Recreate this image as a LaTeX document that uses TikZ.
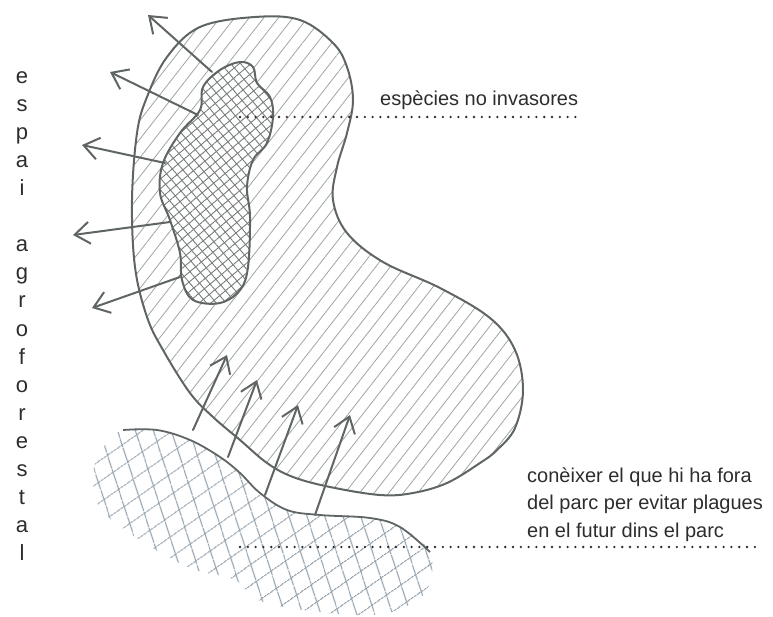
\documentclass[tikz,border=0pt]{standalone}
\usepackage{fontspec}
\setmainfont{Liberation Sans}
\usetikzlibrary{arrows.meta,patterns.meta}
\definecolor{pencil}{RGB}{95,100,100}
\definecolor{graphite}{RGB}{160,163,163}
\definecolor{lead}{RGB}{120,124,124}
\definecolor{slate}{RGB}{145,160,172}
\definecolor{ink}{RGB}{45,45,45}

\begin{document}
\begin{tikzpicture}[x=1pt,y=-1pt,
    outline/.style={draw=pencil,line width=2pt,line join=round},
    pushline/.style={draw=pencil,line width=2pt,line cap=round,-{Straight Barb[length=15pt,width=22pt,line width=2pt]}},
    dotline/.style={draw=ink,line width=2.6pt,line cap=round,dash pattern=on 0pt off 7.8pt},
    notetext/.style={font=\fontsize{20}{24}\selectfont,text=ink,inner sep=0pt}]
  \useasboundingbox (0,0) rectangle (773,617);

  \def\beanpath{plot[smooth cycle,tension=0.6] coordinates {(255,17) (300,20) (333,43) (347,67) (353,100) (347,133) (337,167) (333,200) (347,233) (383,262) (440,288) (490,318) (515,350) (523,390) (515,428) (497,450) (480,463) (447,483) (413,493) (380,495) (330,487) (293,477) (267,463) (240,440) (213,417) (190,393) (163,350) (147,317) (135,267) (132,200) (137,133) (147,97) (167,57) (200,27)}}
  \def\blobpath{plot[smooth cycle,tension=0.6] coordinates {(240,62) (253,67) (257,83) (270,97) (273,117) (267,143) (253,160) (247,187) (250,217) (248,267) (240,290) (220,303) (193,300) (182,280) (180,253) (170,220) (160,193) (163,163) (180,133) (200,110) (203,87) (220,70)}}
  \def\landpath{plot[smooth cycle,tension=0.6] coordinates {(123,430) (157,430) (190,440) (220,457) (240,473) (260,493) (287,510) (320,515) (370,518) (400,527) (430,552) (428,588) (405,607) (370,615) (310,611) (258,600) (235,580) (190,568) (140,540) (100,508) (93,473) (105,445)}}

  \foreach \ang in {35,108}
    \fill[pattern={Lines[angle=\ang,distance=17pt,line width=1.1pt]},pattern color=slate] \landpath;
  \draw[outline,line width=1.8pt] plot[smooth,tension=0.6] coordinates {(123,430) (157,430) (190,440) (220,457) (240,473) (260,493) (287,510) (320,515) (370,518) (400,527) (430,552)};

  \fill[pattern={Lines[angle=52,distance=11.5pt,line width=0.8pt]},pattern color=graphite] \beanpath;
  \draw[outline] \beanpath;

  \fill[white] \blobpath;
  \foreach \ang in {40,130}
    \fill[pattern={Lines[angle=\ang,distance=7.5pt,line width=0.9pt]},pattern color=lead] \blobpath;
  \draw[outline] \blobpath;

  \foreach \a/\b/\c/\d [count=\i] in {212/72/148/15,198/115/110/72,165/163/82/145,170/222/73/235,180/277/92/308}
  {
    \coordinate (outs\i) at (\a,\b);
    \coordinate (outt\i) at (\c,\d);
    \draw[pushline] (outs\i) -- (outt\i);
  }
  \foreach \a/\b/\c/\d [count=\i] in {193/430/227/355,228/457/257/380,265/495/298/405,315/515/350/415}
  {
    \coordinate (ins\i) at (\a,\b);
    \coordinate (int\i) at (\c,\d);
    \draw[pushline] (ins\i) -- (int\i);
  }

  \node[notetext,anchor=base west] (invasores) at (380,106) {espècies no invasores};
  \coordinate (invS) at (240,117);
  \coordinate (invE) at (582,117);
  \draw[dotline] (invS) -- (invE);

  \foreach \t/\y [count=\i] in {conèixer el que hi ha fora/482,del parc per evitar plagues/509.5,en el futur dins el parc/537}
    \node[notetext,anchor=base west] (fora\i) at (527,\y) {\t};
  \coordinate (foraS) at (240,547);
  \coordinate (foraE) at (760,547);
  \draw[dotline] (foraS) -- (foraE);

  \foreach \l/\k [count=\i] in {e/0,s/1,p/2,a/3,i/4,a/6,g/7,r/8,o/9,f/10,o/11,r/12,e/13,s/14,t/15,a/16,l/17}
    \node[notetext,font=\fontsize{22}{26}\selectfont,anchor=base] (ltr\i) at (22,84+28*\k) {\l};
\end{tikzpicture}
\end{document}
